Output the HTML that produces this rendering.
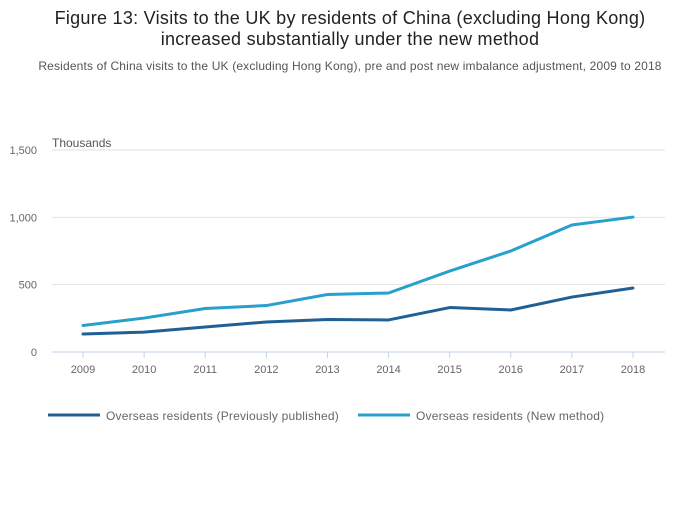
<!DOCTYPE html>
<html><head><meta charset="utf-8"><style>
body{margin:0;background:#fff;font-family:"Liberation Sans",sans-serif;}
</style></head><body>
<svg width="700" height="502" xmlns="http://www.w3.org/2000/svg" id="c">
<text x="350" y="24" text-anchor="middle" font-size="18" fill="#222" letter-spacing="0.28">Figure 13: Visits to the UK by residents of China (excluding Hong Kong)</text>
<text x="350" y="45" text-anchor="middle" font-size="18" fill="#222" letter-spacing="0.28">increased substantially under the new method</text>
<text x="350" y="70" text-anchor="middle" font-size="12" fill="#555" letter-spacing="0.16">Residents of China visits to the UK (excluding Hong Kong), pre and post new imbalance adjustment, 2009 to 2018</text>
<text x="52" y="147" font-size="12" fill="#555">Thousands</text>
<g id="grid"></g><g id="series"></g>
<g>
<line x1="48" y1="415" x2="100" y2="415" stroke="#206095" stroke-width="3"/>
<text x="106" y="420" font-size="12" fill="#666" letter-spacing="0.2">Overseas residents (Previously published)</text>
<line x1="358" y1="415" x2="410" y2="415" stroke="#27a0cc" stroke-width="3"/>
<text x="416" y="420" font-size="12" fill="#666" letter-spacing="0.2">Overseas residents (New method)</text>
</g>
</svg>
<script>
const years=[2009,2010,2011,2012,2013,2014,2015,2016,2017,2018];
const previous=[134,148,186,223,241,238,330,312,408,475];
const newMethod=[197,252,323,345,427,438,601,750,943,1002];
const yTicks=[0,500,1000,1500];
const yTickLabels=["0","500","1,000","1,500"];
const NS="http://www.w3.org/2000/svg";
const x=i=>83+i*(633-83)/(years.length-1);
const y=v=>352-v*(202/1500);
const grid=document.getElementById('grid'),ser=document.getElementById('series');
function mk(tag,attrs,parent){const e=document.createElementNS(NS,tag);for(const k in attrs)e.setAttribute(k,attrs[k]);parent.appendChild(e);return e;}
yTicks.forEach((t,i)=>{
 const l=mk('line',{x1:52,x2:665,y1:y(t),y2:y(t),stroke:t===0?'#c5d3e5':'#e2e2e2','stroke-width':1},grid);
 
 
 const tx=mk('text',{x:37,y:y(t)+4,'text-anchor':'end','font-size':11,fill:'#666'},grid);
 tx.textContent=yTickLabels[i];
 
 
});
years.forEach((yr,i)=>{
 const tk=mk('line',{x1:x(i),x2:x(i),y1:352,y2:358,stroke:'#c5d3e5'},grid);
 
 
 const tx=mk('text',{x:x(i),y:373,'text-anchor':'middle','font-size':11,fill:'#666'},grid);
 tx.textContent=yr;
 
 
});
function line(vals,color,name){
 const d=vals.map((v,i)=>(i?'L':'M')+x(i)+','+y(v)).join(' ');
 const p=mk('path',{d:d,fill:'none',stroke:color,'stroke-width':3,'stroke-linejoin':'round','stroke-linecap':'round'},ser);
 
 
}
line(newMethod,'#27a0cc','line-new-method');
line(previous,'#206095','line-previously-published');
</script>
</body></html>
